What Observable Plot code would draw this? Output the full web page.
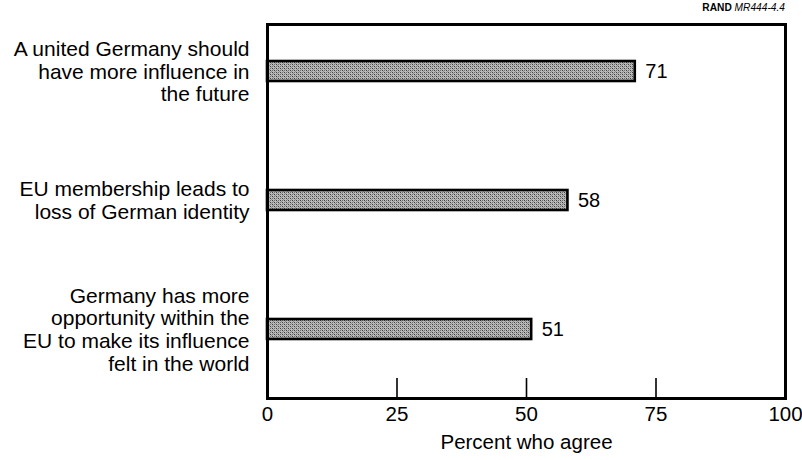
<!DOCTYPE html>
<html>
<head>
<meta charset="utf-8">
<script src="https://cdn.jsdelivr.net/npm/d3@7"></script>
<script src="https://cdn.jsdelivr.net/npm/@observablehq/plot@0.6"></script>
<style>
  html, body { margin: 0; padding: 0; background: #fff; }
  #wrap { position: relative; width: 802px; height: 460px; font-family: "Liberation Sans", Arial, Helvetica, sans-serif; }
  #source { position: absolute; right: 17px; top: 2px; font-size: 10.2px; color: #000; }
  #source b { font-weight: bold; }
</style>
</head>
<body>
<div id="wrap"><div id="source"><b>RAND</b> <i>MR444-4.4</i></div></div>
<script>
const statements = [
  "A united Germany should\nhave more influence in\nthe future",
  "EU membership leads to\nloss of German identity",
  "Germany has more\nopportunity within the\nEU to make its influence\nfelt in the world"
];
const percents = [71, 58, 51];
const xTicks = [0, 25, 50, 75, 100];
const innerTicks = [25, 50, 75];
const xLabel = "Percent who agree";

const data = statements.map((s, i) => ({statement: s, value: percents[i]}));

const chart = Plot.plot({
  width: 802,
  height: 460,
  marginTop: 24,
  marginBottom: 62,
  marginLeft: 267,
  marginRight: 17,
  style: {fontFamily: '"Liberation Sans", Arial, Helvetica, sans-serif', color: "#000", background: "transparent"},
  x: {domain: [0, 100]},
  y: {domain: statements, paddingInner: 0.845, paddingOuter: 0.372, align: 0.385},
  marks: [
    Plot.barX(data, {x: "value", y: "statement", fill: "url(#stipple)", stroke: "#000", strokeWidth: 2.6}),
    Plot.text(data, {x: "value", y: "statement", text: d => String(d.value), textAnchor: "start", dx: 10, fontSize: 20, fill: "#000"}),
    Plot.ruleX(innerTicks, {insetTop: 354, stroke: "#000", strokeWidth: 1.6}),
    Plot.frame({stroke: "#000", strokeWidth: 3}),
    Plot.axisY({tickSize: 0, tickPadding: 18, fontSize: 21, lineHeight: 1.075, textAnchor: "end", label: null, lineWidth: 40}),
    Plot.axisX({ticks: xTicks, tickSize: 0, tickPadding: 8, fontSize: 20.5, tickFormat: d => String(d),
      label: xLabel, labelAnchor: "center", labelArrow: "none", labelOffset: 50})
  ]
});

// stipple pattern for bars
const svg = d3.select(chart);
const defs = svg.insert("defs", ":first-child");
const pat = defs.append("pattern").attr("id", "stipple").attr("patternUnits", "userSpaceOnUse")
  .attr("width", 4).attr("height", 4);
pat.append("rect").attr("width", 4).attr("height", 4).attr("fill", "#bababa");
pat.append("rect").attr("x", 0).attr("y", 0).attr("width", 1).attr("height", 1).attr("fill", "#404040");
pat.append("rect").attr("x", 2).attr("y", 2).attr("width", 1).attr("height", 1).attr("fill", "#404040");
pat.append("rect").attr("x", 2).attr("y", 0).attr("width", 1).attr("height", 1).attr("fill", "#707070");
pat.append("rect").attr("x", 0).attr("y", 2).attr("width", 1).attr("height", 1).attr("fill", "#707070");
pat.append("rect").attr("x", 1).attr("y", 1).attr("width", 1).attr("height", 1).attr("fill", "#909090");
pat.append("rect").attr("x", 3).attr("y", 3).attr("width", 1).attr("height", 1).attr("fill", "#909090");

document.getElementById("wrap").appendChild(chart);
</script>
</body>
</html>
